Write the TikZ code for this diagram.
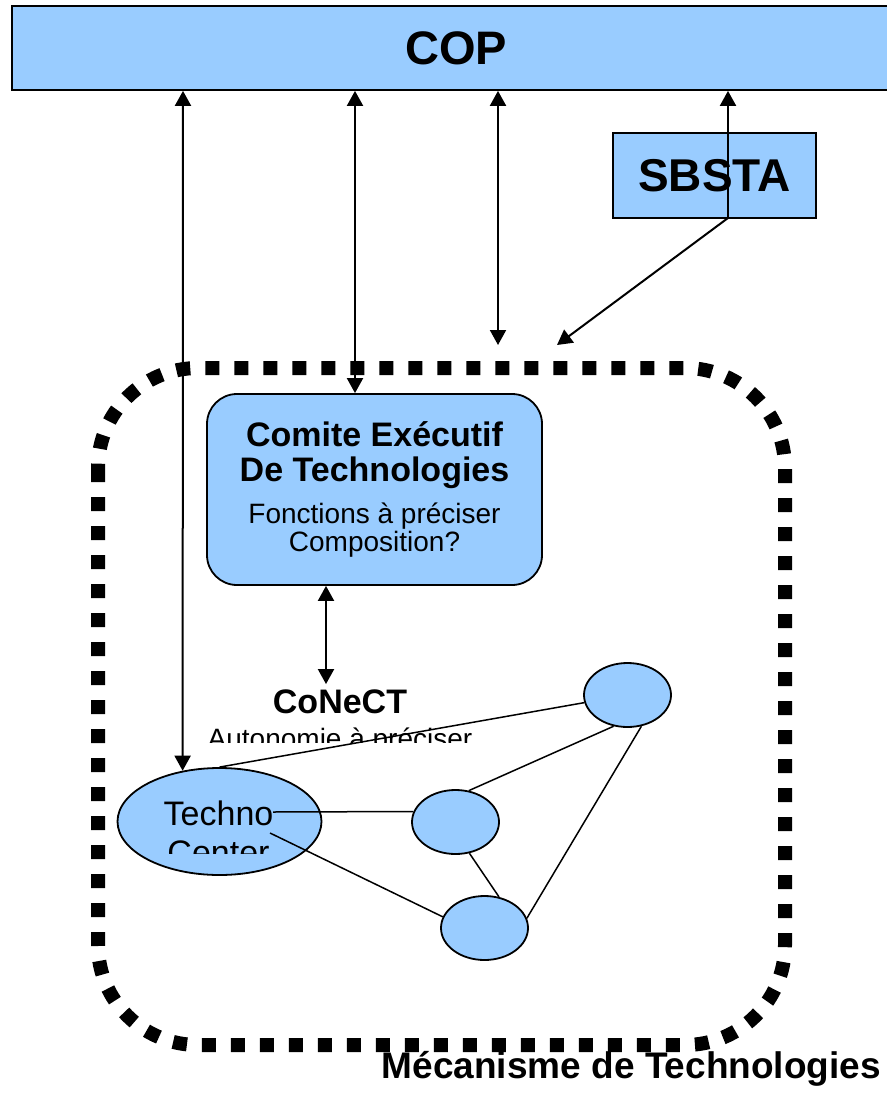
\documentclass[tikz,border=0pt]{standalone}
\usepackage{fontspec}
\setmainfont{Liberation Sans}
\usetikzlibrary{shapes.geometric,arrows.meta}
\definecolor{boxblue}{HTML}{99CCFF}
\tikzstyle{bluebox} = [
    draw=black,
    fill=boxblue,
    line width=1.8pt,
    rectangle,
    inner sep=0pt
    ]
\tikzstyle{netnode} = [
    draw=black,
    fill=boxblue,
    line width=1.8pt,
    ellipse,
    minimum width=87pt,
    minimum height=64pt,
    inner sep=0pt
    ]
\tikzstyle{mecbox} = [
    line width=14pt,
    dash pattern=on 14pt off 15pt,
    rounded corners=100pt
    ]
\tikzstyle{link} = [line width=1.5pt]
\tikzstyle{dblarrow} = [line width=2pt,
    {Triangle[length=15pt,width=16pt]}-{Triangle[length=15pt,width=16pt]}]
\tikzstyle{onearrow} = [line width=2pt, -{Triangle[length=15pt,width=16pt]}]

\begin{document}
\begin{tikzpicture}[x=1pt,y=-1pt]
\useasboundingbox (0,0) rectangle (886,1099);

\node [bluebox, minimum width=888pt, minimum height=84pt,
    font=\fontsize{47}{50}\selectfont\bfseries] (cop) at (456,48) {COP};
\node [bluebox, minimum width=203pt, minimum height=85pt,
    font=\fontsize{46}{50}\selectfont\bfseries] (sbsta) at (714.5,175.5) {SBSTA};

% mecanisme
\draw [mecbox] (98,368) rectangle (785,1045);
\node [anchor=base east, inner sep=0pt,
    font=\fontsize{37}{40}\selectfont\bfseries] (mectitle) at (881,1078) {Mécanisme de Technologies};

\node [bluebox, rounded corners=30pt, minimum width=335pt, minimum height=191pt,
    align=center, font=\fontsize{28}{28.4}\selectfont] (cet) at (374.5,489.5)
    {{\fontsize{34}{28.4}\selectfont\bfseries Comite Exécutif}\\[6.6pt]
     {\fontsize{34}{28.4}\selectfont\bfseries De Technologies}\\[13.2pt]
     Fonctions à préciser\\Composition?};

% reseau
\node [netnode, minimum width=204pt, minimum height=107pt] (tc) at (219.5,821.5) {};
\node [netnode] (e1) at (627.5,695) {};
\node [netnode] (e2) at (455.5,822) {};
\node [netnode] (e3) at (484.5,928) {};

\begin{scope}
\clip (150,650) rectangle (540,742);
\node [anchor=base, align=center, inner sep=5pt,
    font=\fontsize{28}{35}\selectfont] (conect) at (340,748)
    {{\fontsize{34}{35}\selectfont\bfseries CoNeCT}\\Autonomie à préciser};
\end{scope}
\begin{scope}
\clip (100,760) rectangle (340,853);
\node [anchor=base, align=center, inner sep=0pt,
    font=\fontsize{34}{39.5}\selectfont] (tctext) at (218.5,864.5) {Techno\\Center};
\end{scope}

\coordinate (tc1) at (273,812);
\coordinate (tc2) at (270,833);
\draw [link] (tc.north) -- (e1);
\draw [link] (tc1) -- (e2.166);
\draw [link] (tc2) -- (e3.165);
\draw [link] (e2.67) -- (e1.246);
\draw [link] (e2.294) -- (e3.65);
\draw [link] (e3.13) -- (e1.294);

% fleches
\coordinate (a1) at (183,0);
\coordinate (a2) at (355,0);
\coordinate (a3) at (326,0);
\coordinate (m1) at (498,345);
\coordinate (m2) at (557,345);
\coordinate (sb) at (728,218);
\draw [dblarrow] (cop.south -| a1) -- (tc.126);
\draw [dblarrow] (cop.south -| a2) -- (cet.north -| a2);
\draw [dblarrow] (cet.south -| a3) -- (conect.north -| a3);
\draw [dblarrow] (cop.south -| m1) -- (m1);
\draw [onearrow] (sb) -- (cop.south -| sb);
\draw [onearrow] (sb) -- (m2);
\end{tikzpicture}
\end{document}
